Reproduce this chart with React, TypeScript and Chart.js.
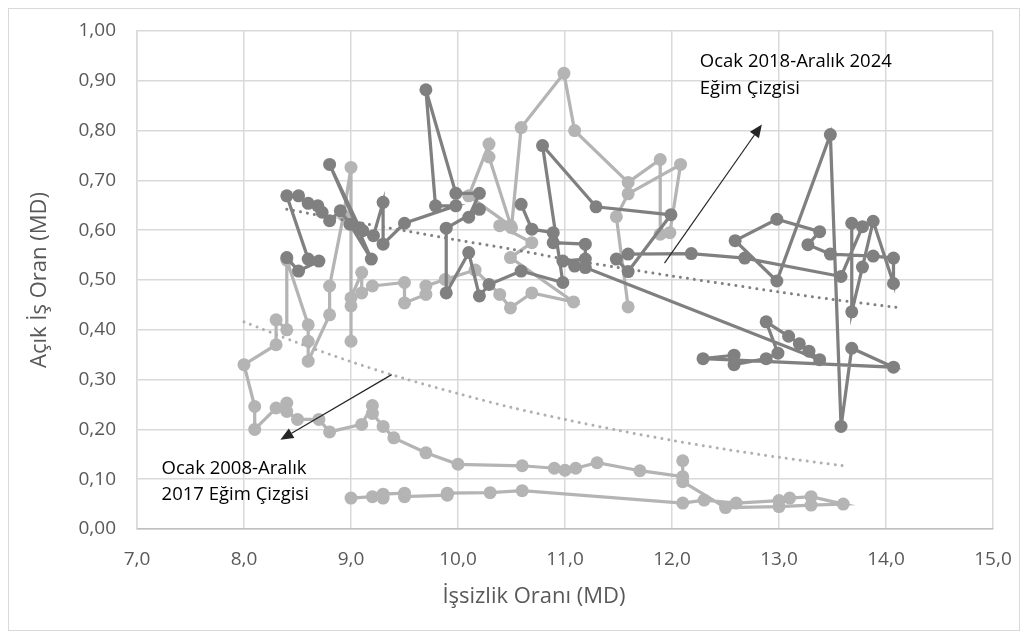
import React, { useEffect, useRef } from "react";
import { Chart, registerables } from "chart.js";

Chart.register(...registerables);

// Axis ticks
const xTicks = [7, 8, 9, 10, 11, 12, 13, 14, 15];
const yTicks = [0, 0.1, 0.2, 0.3, 0.4, 0.5, 0.6, 0.7, 0.8, 0.9, 1.0];

// Ocak 2008 - Aralık 2017 (unemployment rate, vacancy rate)
const p1X = [
  9.0, 9.2, 9.3, 9.3, 9.5, 9.5, 9.9, 9.9, 10.3, 10.6, 12.1, 12.3,
  12.6, 13.0, 13.1, 13.3, 13.6, 13.3, 13.0, 12.5, 12.1, 12.1, 12.1, 11.7,
  11.3, 11.1, 11.0, 10.9, 10.6, 10.0, 9.7, 9.4, 9.3, 9.2, 9.2, 9.1,
  8.8, 8.7, 8.5, 8.4, 8.4, 8.3, 8.1, 8.1, 8.0, 8.3, 8.3, 8.4,
  8.4, 8.6, 8.6, 8.6, 8.8, 8.8, 8.93, 9.0, 9.0, 9.0, 9.0, 9.1,
  9.1, 9.2, 9.5, 9.5, 9.7, 9.7, 9.88, 10.16, 10.39, 10.49, 10.69, 11.08,
  10.49, 10.69, 10.39, 10.49, 10.1, 10.29, 10.29, 10.5, 10.59, 10.99, 11.09, 11.59,
  11.89, 11.89, 11.98, 12.08, 11.59, 11.48, 11.59,
];
const p1Y = [
  0.062, 0.065, 0.062, 0.070, 0.072, 0.065, 0.068, 0.072, 0.073, 0.077, 0.052, 0.058,
  0.052, 0.057, 0.062, 0.065, 0.050, 0.048, 0.045, 0.043, 0.095, 0.137, 0.105, 0.117,
  0.133, 0.122, 0.118, 0.122, 0.127, 0.130, 0.153, 0.183, 0.206, 0.232, 0.248, 0.210,
  0.195, 0.220, 0.220, 0.236, 0.253, 0.243, 0.200, 0.246, 0.330, 0.370, 0.420, 0.400,
  0.540, 0.410, 0.377, 0.337, 0.430, 0.488, 0.630, 0.726, 0.377, 0.448, 0.464, 0.515,
  0.474, 0.488, 0.495, 0.454, 0.471, 0.488, 0.501, 0.520, 0.471, 0.444, 0.474, 0.456,
  0.545, 0.575, 0.609, 0.609, 0.669, 0.773, 0.747, 0.605, 0.806, 0.915, 0.800, 0.696,
  0.742, 0.592, 0.595, 0.732, 0.673, 0.627, 0.446,
];

// Ocak 2018 - Aralık 2024
const p2X = [
  10.59, 10.69, 10.89, 10.89, 11.19, 11.19, 10.98, 11.09, 11.19,
  13.38, 13.28, 13.19, 13.09, 12.88, 12.99, 12.88, 12.58, 12.58, 12.29, 14.07, 13.68,
  13.58, 13.48, 12.98, 12.59, 12.98, 13.38, 13.27, 13.48, 13.88, 14.07, 14.07, 13.88,
  13.78, 13.68, 13.68, 13.78, 13.58, 12.68, 12.18, 11.59, 11.48, 11.59, 11.99, 11.29,
  10.79, 10.98, 10.59, 10.29, 10.2, 10.1, 9.89, 9.89, 10.2, 10.1, 10.2, 9.98,
  9.70, 9.79, 9.98, 9.50, 9.30, 9.30, 9.21, 9.11, 9.08, 8.80, 9.19, 8.99,
  8.90, 8.80, 8.73, 8.69, 8.60, 8.51, 8.40, 8.60, 8.70, 8.51, 8.40,
];
const p2Y = [
  0.652, 0.602, 0.595, 0.575, 0.572, 0.542, 0.538, 0.528, 0.525,
  0.340, 0.357, 0.372, 0.387, 0.416, 0.353, 0.342, 0.330, 0.349, 0.342, 0.325, 0.363,
  0.206, 0.792, 0.498, 0.579, 0.622, 0.597, 0.571, 0.552, 0.548, 0.544, 0.493, 0.618,
  0.526, 0.436, 0.614, 0.607, 0.507, 0.544, 0.553, 0.552, 0.542, 0.517, 0.631, 0.647,
  0.770, 0.495, 0.518, 0.491, 0.468, 0.555, 0.474, 0.604, 0.642, 0.626, 0.674, 0.674,
  0.882, 0.649, 0.649, 0.614, 0.572, 0.656, 0.589, 0.599, 0.605, 0.732, 0.542, 0.612,
  0.639, 0.619, 0.636, 0.649, 0.654, 0.669, 0.669, 0.542, 0.538, 0.518, 0.545,
];

// Trend lines
const trend1X = [8.0, 8.5, 9.0, 9.5, 10.0, 10.5, 11.0, 11.5, 12.0, 12.5, 13.0, 13.6];
const trend1Y = [0.416, 0.374, 0.336, 0.302, 0.272, 0.244, 0.220, 0.198, 0.178, 0.160, 0.144, 0.127];
const trend2X = [8.4, 9.0, 9.5, 10.0, 10.5, 11.0, 11.5, 12.0, 12.5, 13.0, 13.5, 14.1];
const trend2Y = [0.642, 0.618, 0.599, 0.580, 0.562, 0.542, 0.525, 0.508, 0.492, 0.476, 0.461, 0.445];

const xTitle = "İşsizlik Oranı (MD)";
const yTitle = "Açık İş Oran (MD)";
const note2018 = ["Ocak 2018-Aralık 2024", "Eğim Çizgisi"];
const note2008 = ["Ocak 2008-Aralık", "2017 Eğim Çizgisi"];

const LIGHT = "#b4b4b4";
const DARK = "#808080";
const FONT = '"Open Sans", sans-serif';

const zip = (xs: number[], ys: number[]) => xs.map((x, i) => ({ x, y: ys[i] }));
const fmt = (v: number, d: number) => v.toFixed(d).replace(".", ",");

const drawArrow = (ctx: CanvasRenderingContext2D, x0: number, y0: number, x1: number, y1: number) => {
  const ang = Math.atan2(y1 - y0, x1 - x0);
  const len = 13;
  const hw = 5.5;
  const bx = x1 - len * Math.cos(ang);
  const by = y1 - len * Math.sin(ang);
  ctx.strokeStyle = "#262626";
  ctx.fillStyle = "#262626";
  ctx.lineWidth = 1.2;
  ctx.beginPath();
  ctx.moveTo(x0, y0);
  ctx.lineTo(bx, by);
  ctx.stroke();
  ctx.beginPath();
  ctx.moveTo(x1, y1);
  ctx.lineTo(bx + hw * Math.sin(ang), by - hw * Math.cos(ang));
  ctx.lineTo(bx - hw * Math.sin(ang), by + hw * Math.cos(ang));
  ctx.closePath();
  ctx.fill();
};

const framePlugin = {
  id: "frameAndNotes",
  beforeDraw(chart: any) {
    const { ctx, width, height } = chart;
    ctx.save();
    ctx.fillStyle = "#ffffff";
    ctx.fillRect(0, 0, width, height);
    ctx.strokeStyle = "#d9d9d9";
    ctx.lineWidth = 1;
    ctx.strokeRect(0.5, 0.5, width - 1, height - 1);
    ctx.restore();
  },
  afterDraw(chart: any) {
    const { ctx } = chart;
    const xs = chart.scales.x;
    const ys = chart.scales.y;
    const px = (v: number) => xs.getPixelForValue(v);
    const py = (v: number) => ys.getPixelForValue(v);
    ctx.save();
    // x-axis title (placed slightly left of the plot centre as in the original)
    ctx.fillStyle = "#595959";
    ctx.font = `22px ${FONT}`;
    ctx.textAlign = "center";
    ctx.textBaseline = "middle";
    ctx.fillText(xTitle, px(10.71), xs.bottom - 34);
    drawArrow(ctx, px(11.93), py(0.534), px(12.84), py(0.8125));
    drawArrow(ctx, px(9.38), py(0.31), px(8.34), py(0.179));
    ctx.fillStyle = "#000000";
    ctx.font = `18.5px ${FONT}`;
    ctx.textAlign = "left";
    ctx.textBaseline = "middle";
    ctx.fillText(note2018[0], px(12.26), py(0.9375));
    ctx.fillText(note2018[1], px(12.26), py(0.885));
    ctx.fillText(note2008[0], px(7.23), py(0.121));
    ctx.fillText(note2008[1], px(7.23), py(0.0685));
    ctx.restore();
  },
};

export default function App() {
  const ref = useRef<HTMLCanvasElement | null>(null);
  useEffect(() => {
    if (!ref.current) return;
    const seriesStyle = (c: string) => ({
      showLine: true,
      borderColor: c,
      backgroundColor: c,
      pointBackgroundColor: c,
      pointBorderWidth: 0,
      pointRadius: 6.5,
      borderWidth: 3.25,
      tension: 0,
    });
    const trendStyle = (c: string) => ({
      showLine: true,
      borderColor: c,
      backgroundColor: c,
      pointRadius: 0,
      borderWidth: 3,
      borderDash: [0.01, 7],
      borderCapStyle: "round" as const,
      tension: 0.3,
    });
    const chart = new Chart(ref.current, {
      type: "scatter",
      data: {
        datasets: [
          { label: "Trend 2018-2024", data: zip(trend2X, trend2Y), ...trendStyle(DARK) },
          { label: "Trend 2008-2017", data: zip(trend1X, trend1Y), ...trendStyle("#b0b0b0") },
          { label: "2018-2024", data: zip(p2X, p2Y), ...seriesStyle(DARK) },
          { label: "2008-2017", data: zip(p1X, p1Y), ...seriesStyle(LIGHT) },
        ],
      },
      options: {
        animation: false,
        responsive: false,
        layout: { padding: { left: 0, right: 27, top: 23, bottom: 0 } },
        plugins: { legend: { display: false }, tooltip: { enabled: false } },
        scales: {
          x: {
            type: "linear",
            min: 7,
            max: 15,
            afterBuildTicks: (s: any) => {
              s.ticks = xTicks.map((v) => ({ value: v }));
            },
            afterFit: (s: any) => {
              s.height = 102;
            },
            ticks: {
              callback: (v: any) => fmt(Number(v), 1),
              font: { family: FONT, size: 19 },
              color: "#595959",
              padding: 0,
              maxRotation: 0,
            },
            grid: {
              color: "#d9d9d9",
              lineWidth: 1.5,
              drawTicks: true,
              tickLength: 19,
              tickColor: "rgba(0,0,0,0)",
            },
            border: { color: "#bfbfbf", width: 1.5 },
            title: { display: false, text: xTitle },
          },
          y: {
            type: "linear",
            min: 0,
            max: 1,
            afterBuildTicks: (s: any) => {
              s.ticks = yTicks.map((v) => ({ value: v }));
            },
            afterFit: (s: any) => {
              s.width = 129;
            },
            ticks: {
              callback: (v: any) => fmt(Number(v), 2),
              font: { family: FONT, size: 19 },
              color: "#595959",
              padding: 0,
            },
            grid: {
              color: "#d9d9d9",
              lineWidth: 1.5,
              drawTicks: true,
              tickLength: 21,
              tickColor: "rgba(0,0,0,0)",
            },
            border: { color: "#d9d9d9", width: 1.5 },
            title: {
              display: true,
              text: yTitle,
              font: { family: FONT, size: 22 },
              color: "#595959",
              padding: { top: 19, bottom: 0 },
            },
          },
        },
      },
      plugins: [framePlugin],
    });
    return () => chart.destroy();
  }, []);
  return <canvas ref={ref} width={1012} height={623} style={{ display: "block" }} />;
}
